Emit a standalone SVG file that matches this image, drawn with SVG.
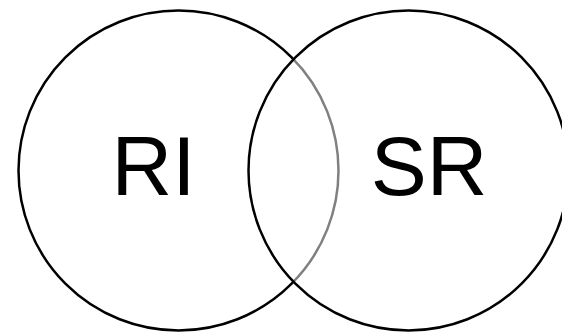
<svg xmlns="http://www.w3.org/2000/svg" width="562" height="333" viewBox="0 0 562 333">
<style>
.c{stroke:#000;stroke-width:2.5}
.t{font-family:"Liberation Sans",Arial,sans-serif;font-size:84px;fill:#000;text-anchor:middle}
</style>
<rect width="562" height="333" fill="#fff"/>
<g id="ri">
<circle class="c" cx="178.5" cy="170.5" r="160" fill="none"/>
<text class="t" x="153.5" y="195">RI</text>
</g>
<g id="sr">
<circle class="c" cx="408.5" cy="170.5" r="160" fill="#fff" fill-opacity="0.5"/>
<text class="t" x="429" y="195">SR</text>
</g>
</svg>
